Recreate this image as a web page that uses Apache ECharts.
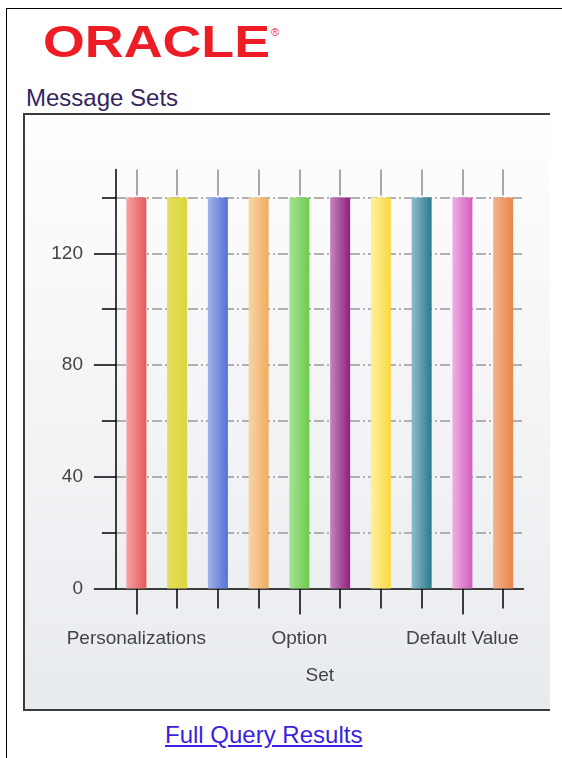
<!DOCTYPE html>
<html>
<head>
<meta charset="utf-8">
<title>Message Sets</title>
<script src="https://cdn.jsdelivr.net/npm/echarts@6/dist/echarts.min.js"></script>
<style>
  html, body { margin: 0; padding: 0; background: #fff; width: 562px; height: 758px; overflow: hidden;
    font-family: "Liberation Sans", Arial, sans-serif; }
  #frame { position: absolute; left: 6px; top: 8px; width: 620px; height: 800px;
    border-top: 1px solid #000; border-left: 1px solid #000; }
  #logo { position: absolute; left: 0; top: 0; }
  #title { position: absolute; left: 26px; top: 84px; font-size: 24px; line-height: 28px; color: #35265e; }
  #box { position: absolute; left: 23px; top: 113px; width: 525px; height: 594px;
    border: 2px solid #3c3c3c; border-right: none;
    background: linear-gradient(#fefefe, #f5f5f7 45%, #e8ebee); }
  #chart { width: 525px; height: 594px; }
  #link { position: absolute; left: 165px; top: 721px; font-size: 24px; line-height: 28px;
    color: #3a1fe0; text-decoration: underline; }
</style>
</head>
<body>
<div id="frame"></div>
<svg id="logo" width="300" height="70">
  <text x="43" y="57" font-family="Liberation Sans" font-weight="bold" font-size="44"
        textLength="227" lengthAdjust="spacingAndGlyphs" fill="#ee1c25">ORACLE</text>
  <text x="271" y="36" font-family="Liberation Sans" font-size="11" fill="#ee1c25">®</text>
</svg>
<div id="title">Message Sets</div>
<div id="box"><div id="chart"></div></div>
<a id="link" href="#">Full Query Results</a>
<script>
// message sets (only every 4th name is printed on the axis)
var categories = ["Personalizations", "Navigation", "Search", "Setup", "Option",
  "Prompt", "Display", "Validation", "Default Value", "Security"];
var messageCounts = [140, 140, 140, 140, 140, 140, 140, 140, 140, 140];
var labelTicks = [0, 40, 80, 120];
var allTicks = [0, 20, 40, 60, 80, 100, 120, 140];

// bar colours: light edge -> dark edge
var palette = [
  ["#f5a3a3", "#e85858"],
  ["#e4df5a", "#dcd640"],
  ["#a3b3ea", "#5570d8"],
  ["#f8d4a6", "#eeae5e"],
  ["#a6e296", "#6ccc4c"],
  ["#c586bd", "#8e1f80"],
  ["#fff0a0", "#f8d840"],
  ["#8ebccb", "#2a7a8e"],
  ["#f0b0e2", "#d25cc2"],
  ["#f2b48c", "#e8864a"]
];

var axisFont = { fontFamily: "Liberation Sans", fontSize: 19, color: "#444" };

function black() {
  return { color: "#000", width: 1.5 };
}

var chart = echarts.init(document.getElementById("chart"));
chart.setOption({
  animation: false,
  grid: { left: 91, top: 54.5, right: 26.5, bottom: 120.5 },
  xAxis: [
    {
      type: "category",
      data: categories,
      position: "bottom",
      axisLine: { show: true, lineStyle: black() },
      axisTick: { show: true, alignWithLabel: true, interval: 0, length: 20, lineStyle: black() },
      axisLabel: Object.assign({ interval: 3, margin: 41 }, axisFont),
      name: "Set",
      nameLocation: "middle",
      nameGap: 78,
      nameTextStyle: axisFont
    },
    {
      // longer ticks under the labelled categories
      type: "category",
      data: categories,
      position: "bottom",
      axisLine: { show: false },
      axisTick: { show: true, alignWithLabel: true, interval: 3, length: 26, lineStyle: black() },
      axisLabel: { show: false }
    },
    {
      // grey stems above the bars
      type: "category",
      data: categories,
      position: "top",
      axisLine: { show: false },
      axisTick: { show: true, alignWithLabel: true, interval: 0, inside: true, length: 26,
        lineStyle: { color: "#8c8c8c", width: 1.5 } },
      axisLabel: { show: false }
    }
  ],
  yAxis: [
    {
      type: "value",
      min: 0,
      max: 150,
      interval: 20,
      axisLine: { show: true, lineStyle: black() },
      axisTick: { show: true, length: 14, customValues: allTicks, lineStyle: black() },
      axisLabel: Object.assign({ customValues: labelTicks, margin: 33 }, axisFont),
      splitLine: {
        show: true, showMinLine: false, showMaxLine: true,
        lineStyle: { color: "#999", width: 1.5, type: [10, 3, 2, 3] }
      }
    },
    {
      // longer ticks at the labelled values
      type: "value",
      min: 0,
      max: 150,
      position: "left",
      axisLine: { show: false },
      axisTick: { show: true, length: 22, customValues: labelTicks, lineStyle: black() },
      axisLabel: { show: false },
      splitLine: { show: false }
    }
  ],
  series: [
    {
      type: "bar",
      barWidth: 20,
      data: messageCounts.map(function (v, i) {
        return {
          value: v,
          itemStyle: {
            color: new echarts.graphic.LinearGradient(0, 0, 1, 0, [
              { offset: 0, color: palette[i][0] },
              { offset: 1, color: palette[i][1] }
            ])
          }
        };
      })
    }
  ]
});
</script>
</body>
</html>
